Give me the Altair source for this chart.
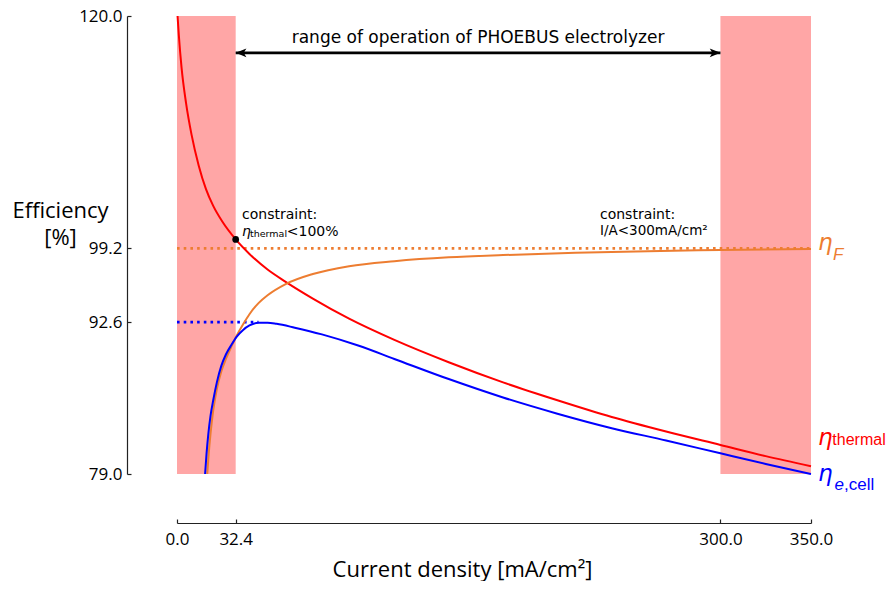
import altair as alt
import pandas as pd

# ---------------- data ----------------
x_ticks = [0.0, 32.4, 300.0, 350.0]
y_ticks = [79.0, 92.6, 99.2, 120.0]

# eta_thermal (red)
j_thermal = [0.3, 1.0, 2.5, 5.0, 8.0, 12.0, 16.0, 20.0, 25.0, 32.4, 40.0, 50.0, 60.0, 75.0,
             95.0, 120.0, 150.0, 180.0, 210.0, 240.0, 270.0, 300.0, 325.0, 350.0]
eta_thermal = [120.0, 118.3, 115.4, 112.2, 109.4, 106.6, 104.5, 103.0, 101.6, 100.0, 98.7, 97.3,
               96.2, 94.7, 92.9, 91.0, 89.0, 87.2, 85.6, 84.1, 82.8, 81.6, 80.6, 79.7]

# eta_F (orange)
j_F = [16.7, 17.5, 18.5, 20.0, 22.0, 24.5, 27.0, 30.0, 33.0, 36.5, 40.0, 45.0, 50.0, 60.0,
       75.0, 95.0, 120.0, 150.0, 180.0, 220.0, 260.0, 300.0, 350.0]
eta_F = [79.0, 80.8, 82.6, 84.7, 86.6, 88.2, 89.3, 90.4, 91.4, 92.4, 93.3, 94.3, 95.0, 96.0,
         96.9, 97.6, 98.05, 98.4, 98.6, 98.8, 98.95, 99.05, 99.15]

# eta_e,cell (blue)
j_cell = [15.5, 16.3, 17.3, 18.5, 20.0, 22.0, 24.5, 27.0, 30.0, 33.0, 36.5, 40.0, 45.0, 50.0,
          55.0, 65.0, 80.0, 100.0, 120.0, 150.0, 180.0, 210.0, 240.0, 270.0, 300.0, 325.0, 350.0]
eta_cell = [79.0, 80.8, 82.6, 84.2, 85.6, 87.2, 88.7, 89.7, 90.55, 91.3, 91.9, 92.3, 92.55, 92.55,
            92.45, 92.1, 91.5, 90.5, 89.3, 87.5, 85.85, 84.4, 83.1, 82.0, 80.85, 79.9, 79.0]

# shaded regions outside the operating range
band_start = [0.0, 300.0]
band_end = [32.4, 350.0]
band_low = [79.0, 79.0]
band_high = [120.0, 120.0]

# dotted reference levels
ref_series = ["F", "cell"]
ref_level = [99.2, 92.6]
ref_start = [0.0, 0.0]
ref_end = [350.0, 45.0]

# constraint point and operating-range arrow
constraint_j = [32.4]
constraint_eta = [100.0]
arrow_from = [32.4]
arrow_to = [300.0]
arrow_level = [116.7]

series_names = ["thermal", "F", "cell"]
series_colors = ["#ff0000", "#ed7d31", "#0000ff"]

# ---------------- tables ----------------
curves = pd.concat([
    pd.DataFrame({"x": j_thermal, "y": eta_thermal, "s": "thermal"}),
    pd.DataFrame({"x": j_F, "y": eta_F, "s": "F"}),
    pd.DataFrame({"x": j_cell, "y": eta_cell, "s": "cell"}),
], ignore_index=True)
bands = pd.DataFrame({"x": band_start, "x2": band_end, "y": band_low, "y2": band_high})
refs = pd.DataFrame({"s": ref_series, "y": ref_level, "x": ref_start, "x2": ref_end})
point = pd.DataFrame({"x": constraint_j, "y": constraint_eta})
arrow = pd.DataFrame({"x": arrow_from, "x2": arrow_to, "y": arrow_level})

xscale = alt.Scale(domain=[0, 350], nice=False, zero=False)
yscale = alt.Scale(domain=[79, 120], nice=False, zero=False)
color = alt.Color("s:N", scale=alt.Scale(domain=series_names, range=series_colors), legend=None)

AX = "#222222"
main_x_axis = alt.Axis(values=x_ticks, format=".1f", offset=49, orient="bottom", grid=False,
                       ticks=False, tickSize=0, domain=True, domainColor=AX, domainWidth=1.2,
                       labelFlush=False, labelOverlap=False,
                       labelFont="Open Sans", labelFontSize=17, labelColor="black", labelPadding=8,
                       title="Current density [mA/cm²]", titleFont="Open Sans", titleFontSize=22,
                       titleFontWeight="normal", titleColor="black", titleAlign="center",
                       titleBaseline="alphabetic", titleX=285, titleY=53)
main_y_axis = alt.Axis(values=y_ticks, format=".1f", offset=50, orient="left", grid=False,
                       ticks=False, tickSize=0, domain=True, domainColor=AX, domainWidth=1.2,
                       labelFlush=False, labelOverlap=False,
                       labelFont="Open Sans", labelFontSize=17, labelColor="black", labelPadding=5,
                       title=["Efficiency", "[%]"], titleFont="Open Sans", titleFontSize=22,
                       titleFontWeight="normal", titleColor="black", titleAngle=0,
                       titleAlign="center", titleBaseline="alphabetic", titleLineHeight=27,
                       titleX=-67, titleY=201)
tick_x_axis = alt.Axis(values=x_ticks, offset=45, orient="bottom", grid=False, domain=False,
                       labels=False, ticks=True, tickSize=4, tickColor=AX, tickWidth=1.2, title=None)
tick_y_axis = alt.Axis(values=y_ticks, offset=46, orient="left", grid=False, domain=False,
                       labels=False, ticks=True, tickSize=4, tickColor=AX, tickWidth=1.2, title=None)


def X(field="x", axis=None):
    return alt.X(f"{field}:Q", scale=xscale, axis=axis)


def Y(field="y", axis=None):
    return alt.Y(f"{field}:Q", scale=yscale, axis=axis)


band_layer = alt.Chart(bands).mark_rect(color="#ffa6a6").encode(
    x=X(), x2="x2:Q", y=Y(), y2="y2:Q")

ref_layer = alt.Chart(refs).mark_rule(strokeWidth=2.6, strokeDash=[2.6, 4.1]).encode(
    x=X(axis=tick_x_axis), x2="x2:Q", y=Y(axis=tick_y_axis), color=color)

line_layer = alt.Chart(curves).mark_line(strokeWidth=2, interpolate="monotone").encode(
    x=X(axis=main_x_axis), y=Y(axis=main_y_axis), color=color, order="x:Q")

arrow_rule = alt.Chart(arrow).mark_rule(color="black", strokeWidth=2.6).encode(
    x=X(), x2="x2:Q", y=Y())
head_left = alt.Chart(arrow).mark_point(
    shape="M0,0L2,-0.8L1.5,0L2,0.8Z", filled=True, color="black", opacity=1, size=115,
    strokeWidth=0).encode(x=X(), y=Y())
head_right = alt.Chart(arrow).mark_point(
    shape="M0,0L-2,-0.8L-1.5,0L-2,0.8Z", filled=True, color="black", opacity=1, size=115,
    strokeWidth=0).encode(x=X("x2"), y=Y())

dot_layer = alt.Chart(point).mark_point(filled=True, color="black", opacity=1, size=45).encode(
    x=X(), y=Y())


def text(x, y, t, **kw):
    df = pd.DataFrame({"x": [x], "y": [y], "t": [t]})
    kw.setdefault("font", "DejaVu Sans")
    kw.setdefault("align", "left")
    kw.setdefault("baseline", "alphabetic")
    kw.setdefault("color", "black")
    return alt.Chart(df).mark_text(**kw).encode(x=X(), y=Y(), text="t:N")


texts = [
    text(166.2, 117.58, "range of operation of PHOEBUS electrolyzer", fontSize=17, align="center"),
    text(35.9, 101.81, "constraint:", fontSize=14),
    text(35.9, 100.34, "η", fontSize=14, fontStyle="italic"),
    text(40.3, 100.2, "thermal", fontSize=9.5),
    text(60.6, 100.3, "<100%", fontSize=14),
    text(233.5, 101.81, "constraint:", fontSize=14),
    text(233.5, 100.41, "I/A<300mA/cm²", fontSize=13.5),
    # series labels at the right
    text(353.9, 99.01, "η", fontSize=23, fontStyle="italic", color="#ed7d31"),
    text(362.2, 98.14, "F", fontSize=17, fontStyle="italic", color="#ed7d31", font="Liberation Sans"),
    text(353.9, 81.57, "η", fontSize=23, fontStyle="italic", color="#ff0000"),
    text(361.8, 81.57, "thermal", fontSize=16, color="#ff0000", font="Liberation Sans"),
    text(353.9, 78.38, "η", fontSize=23, fontStyle="italic", color="#0000ff"),
    text(363.0, 77.58, "e", fontSize=17, fontStyle="italic", color="#0000ff", font="Liberation Sans"),
    text(368.2, 77.58, ",cell", fontSize=17, color="#0000ff", font="Liberation Sans"),
]

chart = alt.layer(
    band_layer, ref_layer, line_layer, arrow_rule, head_left, head_right, dot_layer, *texts
).resolve_axis(x="independent", y="independent").properties(
    width=634, height=458,
    padding={"left": 169, "top": 8, "right": 77, "bottom": 107},
    autosize=alt.AutoSizeParams(type="none"),
).configure_view(stroke=None)

chart.save("out.html", embed_options={"renderer": "svg", "actions": False})
